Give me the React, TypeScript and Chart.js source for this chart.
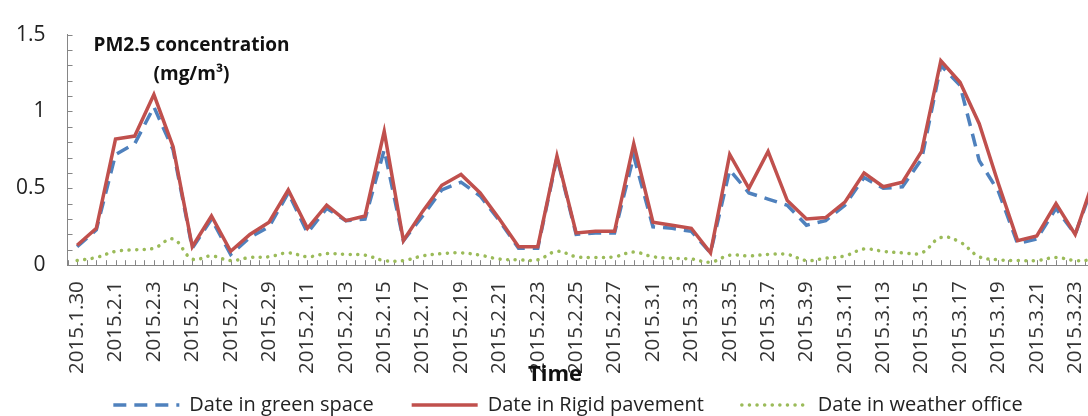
import React, { useEffect, useRef } from 'react';
import { Chart, registerables } from 'chart.js';

Chart.register(...registerables);

const FONT = "'Open Sans', sans-serif";
// the canvas is wider than the window and shifted left, so the plot runs off the right edge
const SHIFT = 20;
const CANVAS_W = 1155;

const dates = [
  '2015.1.30', '2015.1.31', '2015.2.1', '2015.2.2', '2015.2.3', '2015.2.4', '2015.2.5', '2015.2.6',
  '2015.2.7', '2015.2.8', '2015.2.9', '2015.2.10', '2015.2.11', '2015.2.12', '2015.2.13', '2015.2.14',
  '2015.2.15', '2015.2.16', '2015.2.17', '2015.2.18', '2015.2.19', '2015.2.20', '2015.2.21', '2015.2.22',
  '2015.2.23', '2015.2.24', '2015.2.25', '2015.2.26', '2015.2.27', '2015.2.28', '2015.3.1', '2015.3.2',
  '2015.3.3', '2015.3.4', '2015.3.5', '2015.3.6', '2015.3.7', '2015.3.8', '2015.3.9', '2015.3.10',
  '2015.3.11', '2015.3.12', '2015.3.13', '2015.3.14', '2015.3.15', '2015.3.16', '2015.3.17', '2015.3.18',
  '2015.3.19', '2015.3.20', '2015.3.21', '2015.3.22', '2015.3.23', '2015.3.24',
];

const greenSpace = [
  0.12, 0.23, 0.72, 0.79, 1.03, 0.75, 0.11, 0.3, 0.07, 0.18, 0.25, 0.47, 0.21, 0.37, 0.29, 0.3,
  0.75, 0.16, 0.32, 0.49, 0.54, 0.45, 0.29, 0.11, 0.11, 0.7, 0.2, 0.21, 0.21, 0.71, 0.25, 0.24,
  0.22, 0.08, 0.62, 0.47, 0.43, 0.39, 0.26, 0.29, 0.39, 0.57, 0.5, 0.51, 0.69, 1.3, 1.17, 0.68,
  0.48, 0.14, 0.17, 0.37, 0.2, 0.55,
];

const rigidPavement = [
  0.13, 0.24, 0.82, 0.84, 1.11, 0.77, 0.12, 0.32, 0.09, 0.2, 0.28, 0.49, 0.24, 0.39, 0.29, 0.32,
  0.87, 0.16, 0.35, 0.52, 0.59, 0.47, 0.3, 0.12, 0.12, 0.71, 0.21, 0.22, 0.22, 0.79, 0.28, 0.26,
  0.24, 0.08, 0.72, 0.5, 0.74, 0.42, 0.3, 0.31, 0.41, 0.6, 0.51, 0.54, 0.74, 1.33, 1.19, 0.92,
  0.53, 0.16, 0.19, 0.4, 0.2, 0.57,
];

const weatherOffice = [
  0.03, 0.05, 0.09, 0.1, 0.11, 0.17, 0.04, 0.06, 0.03, 0.05, 0.055, 0.08, 0.055, 0.075, 0.07, 0.065,
  0.03, 0.03, 0.06, 0.075, 0.08, 0.065, 0.04, 0.035, 0.035, 0.09, 0.055, 0.05, 0.055, 0.085, 0.055, 0.045,
  0.04, 0.02, 0.065, 0.06, 0.07, 0.07, 0.03, 0.045, 0.06, 0.105, 0.09, 0.08, 0.08, 0.18, 0.15, 0.055,
  0.035, 0.03, 0.03, 0.05, 0.03, 0.035,
];

const seriesNames = ['Date in green space', 'Date in Rigid pavement', 'Date in weather office'];
const titleLines = ['PM2.5 concentration', '(mg/m\u00b3)'];
const xTitle = 'Time';

// inside tick marks, chart title, axis title and legend
const decorations = {
  id: 'decorations',
  beforeDatasetsDraw(chart: any) {
    const { ctx, chartArea, scales } = chart;
    const xs = scales.x;
    const ys = scales.y;
    ctx.save();
    ctx.strokeStyle = '#868686';
    ctx.lineWidth = 1;
    ctx.beginPath();
    for (let k = 1; k <= 15; k++) {
      const py = Math.round(ys.getPixelForValue(k / 10)) + 0.5;
      ctx.moveTo(chartArea.left, py);
      ctx.lineTo(chartArea.left + 5, py);
    }
    const half = (xs.getPixelForValue(1) - xs.getPixelForValue(0)) / 2;
    for (let i = 0; i < dates.length; i++) {
      for (const dx of [-half, 0]) {
        const px = Math.round(xs.getPixelForValue(i) + dx) + 0.5;
        ctx.moveTo(px, chartArea.bottom);
        ctx.lineTo(px, chartArea.bottom - 5);
      }
    }
    ctx.stroke();
    ctx.restore();
  },
  afterDraw(chart: any) {
    const { ctx, chartArea } = chart;
    ctx.save();
    ctx.fillStyle = '#111';
    ctx.textAlign = 'center';
    ctx.textBaseline = 'middle';
    ctx.font = `bold 19px ${FONT}`;
    ctx.fillText(titleLines[0], chartArea.left + 124, chartArea.top + 11);
    ctx.fillText(titleLines[1], chartArea.left + 124, chartArea.top + 40);

    ctx.font = `bold 22px ${FONT}`;
    ctx.fillText(xTitle, 555 + SHIFT, 375);

    // legend
    const legendY = 405;
    const sample = 66;
    const textGap = 10;
    const itemGap = 38;
    ctx.font = `20px ${FONT}`;
    const datasets = chart.data.datasets;
    const widths = datasets.map((ds: any) => sample + textGap + ctx.measureText(ds.label).width);
    const total = widths.reduce((a: number, b: number) => a + b, 0) + itemGap * (widths.length - 1);
    let lx = 568 + SHIFT - total / 2;
    datasets.forEach((ds: any, i: number) => {
      ctx.strokeStyle = ds.borderColor;
      ctx.lineWidth = ds.borderWidth;
      ctx.lineCap = ds.borderCapStyle || 'butt';
      ctx.setLineDash(ds.borderDash || []);
      ctx.beginPath();
      ctx.moveTo(lx, legendY);
      ctx.lineTo(lx + sample, legendY);
      ctx.stroke();
      ctx.setLineDash([]);
      ctx.fillStyle = '#222';
      ctx.textAlign = 'left';
      ctx.fillText(ds.label, lx + sample + textGap, legendY);
      lx += widths[i] + itemGap;
    });
    ctx.restore();
  },
};

export default function App() {
  const canvasRef = useRef<HTMLCanvasElement>(null);

  useEffect(() => {
    if (!canvasRef.current) return;
    const chart = new Chart(canvasRef.current, {
      type: 'line',
      data: {
        labels: dates,
        datasets: [
          {
            label: seriesNames[0],
            data: greenSpace,
            borderColor: '#4F81BD',
            borderWidth: 3.5,
            borderDash: [13, 8],
            pointRadius: 0,
            tension: 0,
            order: 1,
          },
          {
            label: seriesNames[1],
            data: rigidPavement,
            borderColor: '#C0504D',
            borderWidth: 3.5,
            pointRadius: 0,
            tension: 0,
            order: 0,
          },
          {
            label: seriesNames[2],
            data: weatherOffice,
            borderColor: '#9BBB59',
            borderWidth: 3.5,
            borderDash: [0.1, 7.5],
            borderCapStyle: 'round',
            pointRadius: 0,
            tension: 0.4,
            order: 2,
          },
        ],
      },
      options: {
        animation: false,
        responsive: true,
        maintainAspectRatio: false,
        layout: { padding: { left: 14, top: 0, right: 2, bottom: 26 } },
        plugins: {
          legend: { display: false },
          tooltip: { enabled: false },
        },
        scales: {
          x: {
            type: 'category',
            offset: true,
            grid: { display: false, drawTicks: false },
            border: { color: '#868686', width: 1 },
            ticks: {
              autoSkip: false,
              minRotation: 90,
              maxRotation: 90,
              padding: 16,
              color: '#333',
              font: { family: FONT, size: 20.5 },
              callback: (_v: any, i: number) => (i % 2 === 0 ? dates[i] : ''),
            },
          },
          y: {
            min: 0,
            max: 1.5,
            grid: { display: false, drawTicks: false },
            border: { color: '#868686', width: 1 },
            ticks: {
              stepSize: 0.5,
              padding: 22,
              color: '#222',
              font: { family: FONT, size: 21 },
              callback: (v: any) => `${+v}`,
            },
          },
        },
      },
      plugins: [decorations],
    });
    return () => chart.destroy();
  }, []);

  return (
    <div style={{ position: 'fixed', left: 0, top: 0, width: 1088, height: 416, overflow: 'hidden', background: '#fff' }}>
      <div style={{ position: 'absolute', left: -SHIFT, top: 0, width: CANVAS_W, height: 416 }}>
        <canvas ref={canvasRef} />
      </div>
    </div>
  );
}
